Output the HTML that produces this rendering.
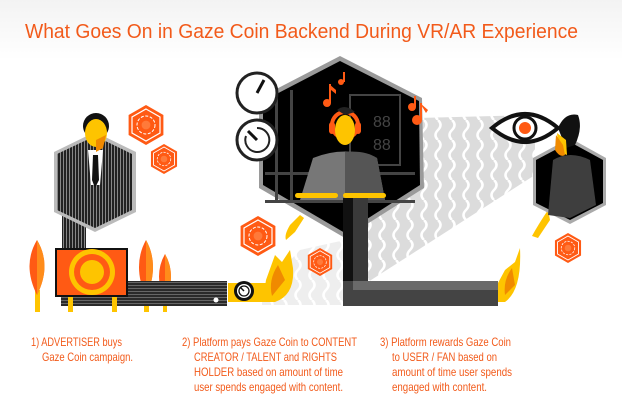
<!DOCTYPE html>
<html><head><meta charset="utf-8"><style>
html,body{margin:0;padding:0;background:#fff}
svg{display:block}
text{font-family:"Liberation Sans",sans-serif;fill:#f25a1a}
</style></head><body>
<svg width="622" height="408" viewBox="0 0 622 408" xmlns="http://www.w3.org/2000/svg">
<defs>
<linearGradient id="bg" x1="0" y1="0" x2="0" y2="1"><stop offset="0" stop-color="#f3f3f3"/><stop offset="1" stop-color="#fff"/></linearGradient>
<pattern id="pin" width="3" height="10" patternUnits="userSpaceOnUse"><rect width="3" height="10" fill="#222"/><rect width="1" height="10" fill="#888"/></pattern>
<pattern id="hstr" width="10" height="3" patternUnits="userSpaceOnUse"><rect width="10" height="3" fill="#2a2a2a"/><rect width="10" height="1" fill="#666"/></pattern>
<pattern id="wave" width="14" height="20" patternUnits="userSpaceOnUse"><rect width="14" height="20" fill="#dcdcdc"/><path d="M4 0 Q9 5 4 10 Q-1 15 4 20" stroke="#fff" stroke-width="2.5" fill="none"/></pattern>
<g id="hx"><polygon points="0,-1 0.87,-0.5 0.87,0.5 0,1 -0.87,0.5 -0.87,-0.5" fill="#ff5a14"/><polygon points="0,-0.8 0.7,-0.4 0.7,0.4 0,0.8 -0.7,0.4 -0.7,-0.4" fill="none" stroke="#fff" stroke-width="0.06"/><circle r="0.45" fill="none" stroke="#fff" stroke-width="0.05" stroke-dasharray="0.15 0.08"/><circle r="0.22" fill="#ff7a3a"/></g>
</defs>
<rect width="622" height="60" fill="url(#bg)"/>
<text x="25" y="38" font-size="20" textLength="553" lengthAdjust="spacingAndGlyphs">What Goes On in Gaze Coin Backend During VR/AR Experience</text>

<!-- wave beam -->
<polygon points="418,118 535,115 535,175 368,282 345,300 345,200 418,190" fill="url(#wave)"/>
<polygon points="262,290 300,250 345,240 345,305 262,305" fill="url(#wave)" opacity="0.5"/>

<!-- advertiser -->
<rect x="62" y="200" width="24" height="55" fill="url(#pin)"/>
<polygon points="95,132 136,152 136,212 95,232 54,212 54,152" fill="#bbb"/>
<polygon points="95,136 132,154 132,210 95,228 57,210 57,154" fill="url(#pin)"/>
<polygon points="88,150 103,150 100,185 91,185" fill="#fff"/>
<polygon points="93,155 98,155 99,180 95,188 92,180" fill="#111"/>
<ellipse cx="96" cy="126" rx="13" ry="13" fill="#111"/>
<ellipse cx="96" cy="133" rx="11" ry="14" fill="#fec400"/>
<polygon points="96,140 106,135 103,148 96,152" fill="#f08a00"/>

<!-- leaves -->
<rect x="35" y="290" width="5" height="22" fill="#fec400"/>
<path d="M37 240 Q52 265 37 295 Q22 265 37 240Z" fill="#ff5a14"/><path d="M37 240 Q52 265 37 295Z" fill="#ff8c1a"/>
<rect x="144" y="290" width="5" height="22" fill="#fec400"/>
<path d="M146 240 Q160 265 146 298 Q132 265 146 240Z" fill="#ff5a14"/><path d="M146 240 Q160 265 146 298Z" fill="#ff8c1a"/>
<rect x="163" y="295" width="4" height="17" fill="#fec400"/>
<path d="M165 254 Q177 275 165 302 Q153 275 165 254Z" fill="#ff5a14"/><path d="M165 254 Q177 275 165 302Z" fill="#ff8c1a"/>

<!-- dark bar -->
<rect x="61" y="281" width="166" height="25" fill="url(#hstr)"/>
<circle cx="216" cy="300" r="2.5" fill="#fff"/>
<rect x="68" y="296" width="5" height="16" fill="#fec400"/><rect x="112" y="296" width="5" height="16" fill="#fec400"/>
<!-- target -->
<rect x="55" y="248" width="73" height="49" fill="#111"/>
<rect x="57" y="250" width="69" height="45" fill="#ff5a14"/>
<circle cx="92" cy="272" r="23" fill="#fec400"/><circle cx="92" cy="272" r="18" fill="#ff5a14"/><circle cx="92" cy="272" r="12" fill="#fec400"/>

<!-- yellow band & stopwatch -->
<rect x="228" y="283" width="47" height="19" fill="#fec400"/>
<circle cx="244" cy="291" r="10" fill="#111"/><circle cx="244" cy="291" r="7" fill="#fff"/><circle cx="244" cy="291" r="5" fill="none" stroke="#111" stroke-width="1.3"/><line x1="244" y1="291" x2="240" y2="287" stroke="#111" stroke-width="1.5"/>

<!-- coins -->
<use href="#hx" transform="translate(146,125) scale(20)"/>
<use href="#hx" transform="translate(164,159) scale(15)"/>
<use href="#hx" transform="translate(258,236) scale(20)"/>
<use href="#hx" transform="translate(320,262) scale(14)"/>
<use href="#hx" transform="translate(568,248) scale(15)"/>

<!-- center hex -->
<polygon points="340,56 422,98 424,188 345,238 259,188 259,98" fill="#9a9a9a"/>
<polygon points="340,61 419,101 420,185 345,233 263,185 263,101" fill="#000"/>
<rect x="275" y="90" width="3" height="110" fill="#444"/><rect x="290" y="90" width="3" height="110" fill="#444"/>
<rect x="265" y="172" width="150" height="3" fill="#444"/><rect x="265" y="200" width="150" height="3" fill="#444"/>
<rect x="350" y="95" width="50" height="70" fill="none" stroke="#444" stroke-width="2"/>
<text x="373" y="127" font-size="16" style="fill:#444">88</text><text x="373" y="150" font-size="16" style="fill:#444">88</text>
<!-- person center -->
<path d="M300 200 L313 158 Q345 145 377 158 L385 200Z" fill="#777"/>
<path d="M345 152 Q365 150 377 158 L385 200 L345 200Z" fill="#555"/>
<circle cx="345" cy="125" r="13" fill="none" stroke="#ff5a14" stroke-width="4"/>
<ellipse cx="345" cy="130" rx="10" ry="15" fill="#fec400"/>
<rect x="329" y="122" width="6" height="12" rx="3" fill="#ff5a14"/><rect x="355" y="122" width="6" height="12" rx="3" fill="#ff5a14"/>
<path d="M337 110 Q345 103 355 112 L345 115Z" fill="#222"/>
<rect x="295" y="193" width="43" height="5" rx="2.5" fill="#fec400"/><rect x="343" y="193" width="43" height="5" rx="2.5" fill="#fec400"/>
<!-- notes -->
<g fill="#ff5a14"><circle cx="327" cy="103" r="4"/><rect x="329" y="84" width="2" height="19"/><path d="M329 84 L336 90 L336 94 L331 90Z"/>
<circle cx="341" cy="82" r="3"/><rect x="343" y="72" width="2" height="10"/>
<circle cx="412" cy="107" r="4"/><rect x="414" y="96" width="2" height="11"/>
<circle cx="417" cy="120" r="5"/><rect x="420" y="103" width="2" height="17"/><path d="M420 103 L428 110 L426 113Z"/></g>

<!-- clocks -->
<circle cx="257" cy="93" r="20" fill="#fff" stroke="#222" stroke-width="3"/><line x1="257" y1="93" x2="264" y2="80" stroke="#111" stroke-width="3"/>
<circle cx="257" cy="140" r="20" fill="#fff" stroke="#222" stroke-width="3"/><path d="M257 128 A12 12 0 1 1 246 136" fill="none" stroke="#222" stroke-width="2"/><line x1="257" y1="140" x2="248" y2="131" stroke="#111" stroke-width="3"/>

<!-- L pole -->
<rect x="343" y="198" width="25" height="108" fill="#3a3a3a"/><rect x="343" y="198" width="10" height="108" fill="#111"/>
<rect x="343" y="281" width="155" height="25" fill="#444"/><rect x="353" y="281" width="145" height="9" fill="#6a6a6a"/>

<!-- hands -->
<path d="M300 215 L290 225 Q284 235 286 240 L295 232 L304 218Z" fill="#fec400"/>
<path d="M275 302 Q262 300 266 280 L275 255 L282 262 L290 250 L293 268 Q295 295 275 302Z" fill="#fec400"/><path d="M272 296 Q268 280 278 265 L285 280Z" fill="#f08a00"/>
<path d="M498 302 L498 283 L505 270 L515 262 L520 248 Q522 290 505 302Z" fill="#fec400"/><path d="M505 295 Q503 280 512 268 L515 285Z" fill="#f08a00"/>
<path d="M548 210 Q538 225 532 236 L538 238 L550 220Z" fill="#fec400"/>

<!-- eye -->
<path d="M492 128 Q525 100 558 128 Q525 156 492 128Z" fill="#fff" stroke="#111" stroke-width="4"/>
<circle cx="525" cy="128" r="11" fill="#fff" stroke="#111" stroke-width="3"/><circle cx="525" cy="128" r="6" fill="#ff5a14"/>

<!-- user hex -->
<polygon points="570,138 606,158 606,205 570,224 533,205 533,158" fill="#aaa"/>
<polygon points="570,142 603,160 603,203 570,220 536,203 536,160" fill="#000"/>
<path d="M548 215 L553 160 Q570 150 590 160 L596 205 L570 218Z" fill="#3e3e3e"/>
<path d="M558 128 Q565 112 578 115 Q583 128 575 145 L566 148Z" fill="#111"/>
<path d="M557 133 L566 140 L567 155 L559 152Z" fill="#fec400"/>
<path d="M556 135 L563 145 L565 155 Q560 158 555 150Z" fill="#f08a00"/>

<!-- captions -->
<g font-size="12">
<text x="31" y="346" textLength="91" lengthAdjust="spacingAndGlyphs">1) ADVERTISER buys</text>
<text x="42" y="361" textLength="91" lengthAdjust="spacingAndGlyphs">Gaze Coin campaign.</text>
<text x="182" y="346" textLength="175" lengthAdjust="spacingAndGlyphs">2) Platform pays Gaze Coin to CONTENT</text>
<text x="194" y="361" textLength="143" lengthAdjust="spacingAndGlyphs">CREATOR / TALENT and RIGHTS</text>
<text x="194" y="376" textLength="149" lengthAdjust="spacingAndGlyphs">HOLDER based on amount of time</text>
<text x="194" y="391" textLength="149" lengthAdjust="spacingAndGlyphs">user spends engaged with content.</text>
<text x="380" y="346" textLength="131" lengthAdjust="spacingAndGlyphs">3) Platform rewards Gaze Coin</text>
<text x="392" y="361" textLength="105" lengthAdjust="spacingAndGlyphs">to USER / FAN based on</text>
<text x="392" y="376" textLength="120" lengthAdjust="spacingAndGlyphs">amount of time user spends</text>
<text x="392" y="391" textLength="95" lengthAdjust="spacingAndGlyphs">engaged with content.</text>
</g>
</svg>
</body></html>
